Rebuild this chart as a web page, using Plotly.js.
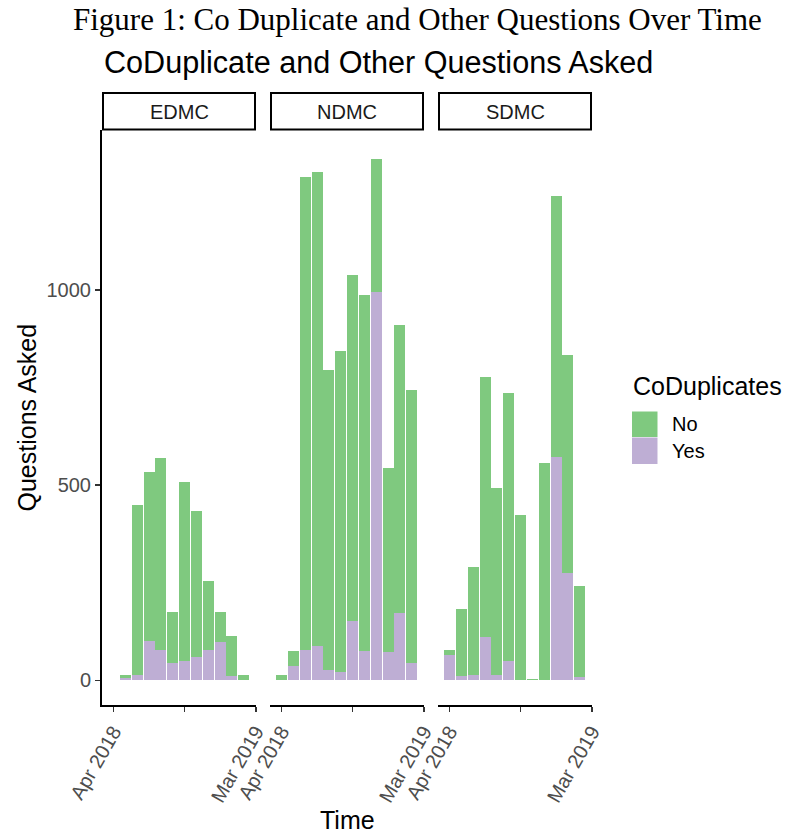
<!DOCTYPE html>
<html><head><meta charset="utf-8">
<script src="https://cdn.plot.ly/plotly-3.0.1.min.js"></script>
<style>html,body{margin:0;padding:0;background:#fff}</style>
</head><body><div id="chart" style="width:785px;height:833px"></div>
<script>
// Histogram bin centres (dates) shared by all panels
const binDates = ['2018-04-01','2018-04-29','2018-05-27','2018-06-24','2018-07-21','2018-08-18',
                  '2018-09-15','2018-10-13','2018-11-10','2018-12-08','2019-01-04','2019-02-01'];
const regions = ['EDMC','NDMC','SDMC'];
const edmcNo  = [0, 6, 435, 433, 492, 130, 460, 376, 175, 76, 104, 15];
const edmcYes = [0, 7, 15, 102, 79, 44, 49, 59, 79, 98, 11, 0];
const ndmcNo  = [15, 39, 1211, 1215, 770, 823, 886, 913, 339, 473, 739, 701];
const ndmcYes = [0, 36, 79, 87, 26, 21, 153, 75, 996, 72, 172, 44];
const sdmcNo  = [11, 171, 278, 668, 479, 688, 425, 4, 557, 669, 558, 235];
const sdmcYes = [66, 11, 13, 110, 15, 49, 0, 0, 0, 572, 276, 8];
const tickDates  = ['2018-04-01','2018-09-15','2019-03-01'];
const tickLabels = ['Apr 2018','','Mar 2019'];
const yTicks = [0, 500, 1000];
const legendLabels = ['No','Yes'];
const legendTitle = 'CoDuplicates';
const figTitle = 'Figure 1: Co Duplicate and Other Questions Over Time';
const plotTitle = 'CoDuplicate and Other Questions Asked';
const xTitle = 'Time';
const yTitle = 'Questions Asked';

const colNo = '#7fc97f', colYes = '#beaed4';
const W = 785, H = 833;
const px = x => x / W, py = y => 1 - y / H;
const sans = 'Liberation Sans, Arial, sans-serif';
const DAY = 86400000;
const barW = 25.8 * DAY;

const noData = [edmcNo, ndmcNo, sdmcNo];
const yesData = [edmcYes, ndmcYes, sdmcYes];
const panels = [[102, 256], [270, 424], [438, 592]];
const axNames = ['x', 'x2', 'x3'];

const traces = [];
regions.forEach((r, i) => {
  traces.push({type:'bar', x: binDates, y: yesData[i], name: legendLabels[1], xaxis: axNames[i], yaxis:'y',
    marker:{color: colYes, line:{width:0}}, width: barW, showlegend:false, hoverinfo:'x+y'});
  traces.push({type:'bar', x: binDates, y: noData[i], name: legendLabels[0], xaxis: axNames[i], yaxis:'y',
    marker:{color: colNo, line:{width:0}}, width: barW, showlegend:false, hoverinfo:'x+y'});
});

const panelTop = 130, panelBot = 705;
const layout = {
  width: W, height: H, margin:{l:0, r:0, t:0, b:0},
  paper_bgcolor:'#fff', plot_bgcolor:'#fff',
  barmode:'stack', showlegend:false,
  font:{family: sans, color:'#000'},
  yaxis:{domain:[py(panelBot), py(panelTop)], range:[-63, 1410], anchor:'x',
    tickvals: yTicks, ticktext: yTicks.map(String), showgrid:false, zeroline:false,
    showline:true, linecolor:'#000', linewidth:2, ticks:'outside', ticklen:5, tickwidth:1.5, tickcolor:'#333',
    tickfont:{size:20, color:'#4d4d4d', family:sans}},
  shapes: [], annotations: []
};
panels.forEach((p, i) => {
  const key = i === 0 ? 'xaxis' : 'xaxis' + (i + 1);
  layout[key] = {domain:[px(p[0]), px(p[1])], anchor:'y', type:'date',
    range:['2018-03-05', '2019-03-01 12:00'], tickvals: tickDates, ticktext: tickLabels,
    tickangle:-60, showgrid:false, zeroline:false, showline:true, linecolor:'#000', linewidth:2,
    ticks:'outside', ticklen:5, tickwidth:1.5, tickcolor:'#333',
    tickfont:{size:20, color:'#4d4d4d', family:sans}};
  layout.shapes.push({type:'rect', xref:'paper', yref:'paper', x0:px(p[0]+1), x1:px(p[1]-1),
    y0:py(129.5), y1:py(93), line:{color:'#000', width:2}, fillcolor:'#fff', layer:'above'});
  layout.annotations.push({xref:'paper', yref:'paper', x:px((p[0]+p[1])/2), y:py(111.5),
    text: regions[i], showarrow:false, xanchor:'center', yanchor:'middle',
    font:{size:20, color:'#1a1a1a', family:sans}});
});
// titles
layout.annotations.push({xref:'paper', yref:'paper', x:px(417.5), y:py(20), text: figTitle, showarrow:false,
  xanchor:'center', yanchor:'middle', font:{size:31, family:'Liberation Serif, Times New Roman, serif', color:'#000'}});
layout.annotations.push({xref:'paper', yref:'paper', x:px(102), y:py(62), text: plotTitle, showarrow:false,
  xanchor:'left', yanchor:'middle', font:{size:30.6, family:sans, color:'#000'}});
layout.annotations.push({xref:'paper', yref:'paper', x:px(347), y:py(820), text: xTitle, showarrow:false,
  xanchor:'center', yanchor:'middle', font:{size:25, family:sans, color:'#000'}});
layout.annotations.push({xref:'paper', yref:'paper', x:px(26), y:py(417.5), text: yTitle, showarrow:false,
  textangle:-90, xanchor:'center', yanchor:'middle', font:{size:25, family:sans, color:'#000'}});
// legend
layout.annotations.push({xref:'paper', yref:'paper', x:px(631), y:py(386), text: legendTitle, showarrow:false,
  xanchor:'left', yanchor:'middle', font:{size:25, family:sans, color:'#000'}});
[[colNo, 411.5, 437], [colYes, 437.5, 464]].forEach((k, j) => {
  layout.shapes.push({type:'rect', xref:'paper', yref:'paper', x0:px(632), x1:px(657.5), y0:py(k[2]), y1:py(k[1]),
    fillcolor:k[0], line:{width:0}});
  layout.annotations.push({xref:'paper', yref:'paper', x:px(670), y:py((k[1]+k[2])/2), text: legendLabels[j],
    showarrow:false, xanchor:'left', yanchor:'middle', font:{size:20, family:sans, color:'#000'}});
});

Plotly.newPlot('chart', traces, layout, {displayModeBar:false, staticPlot:true});
</script>
</body></html>
